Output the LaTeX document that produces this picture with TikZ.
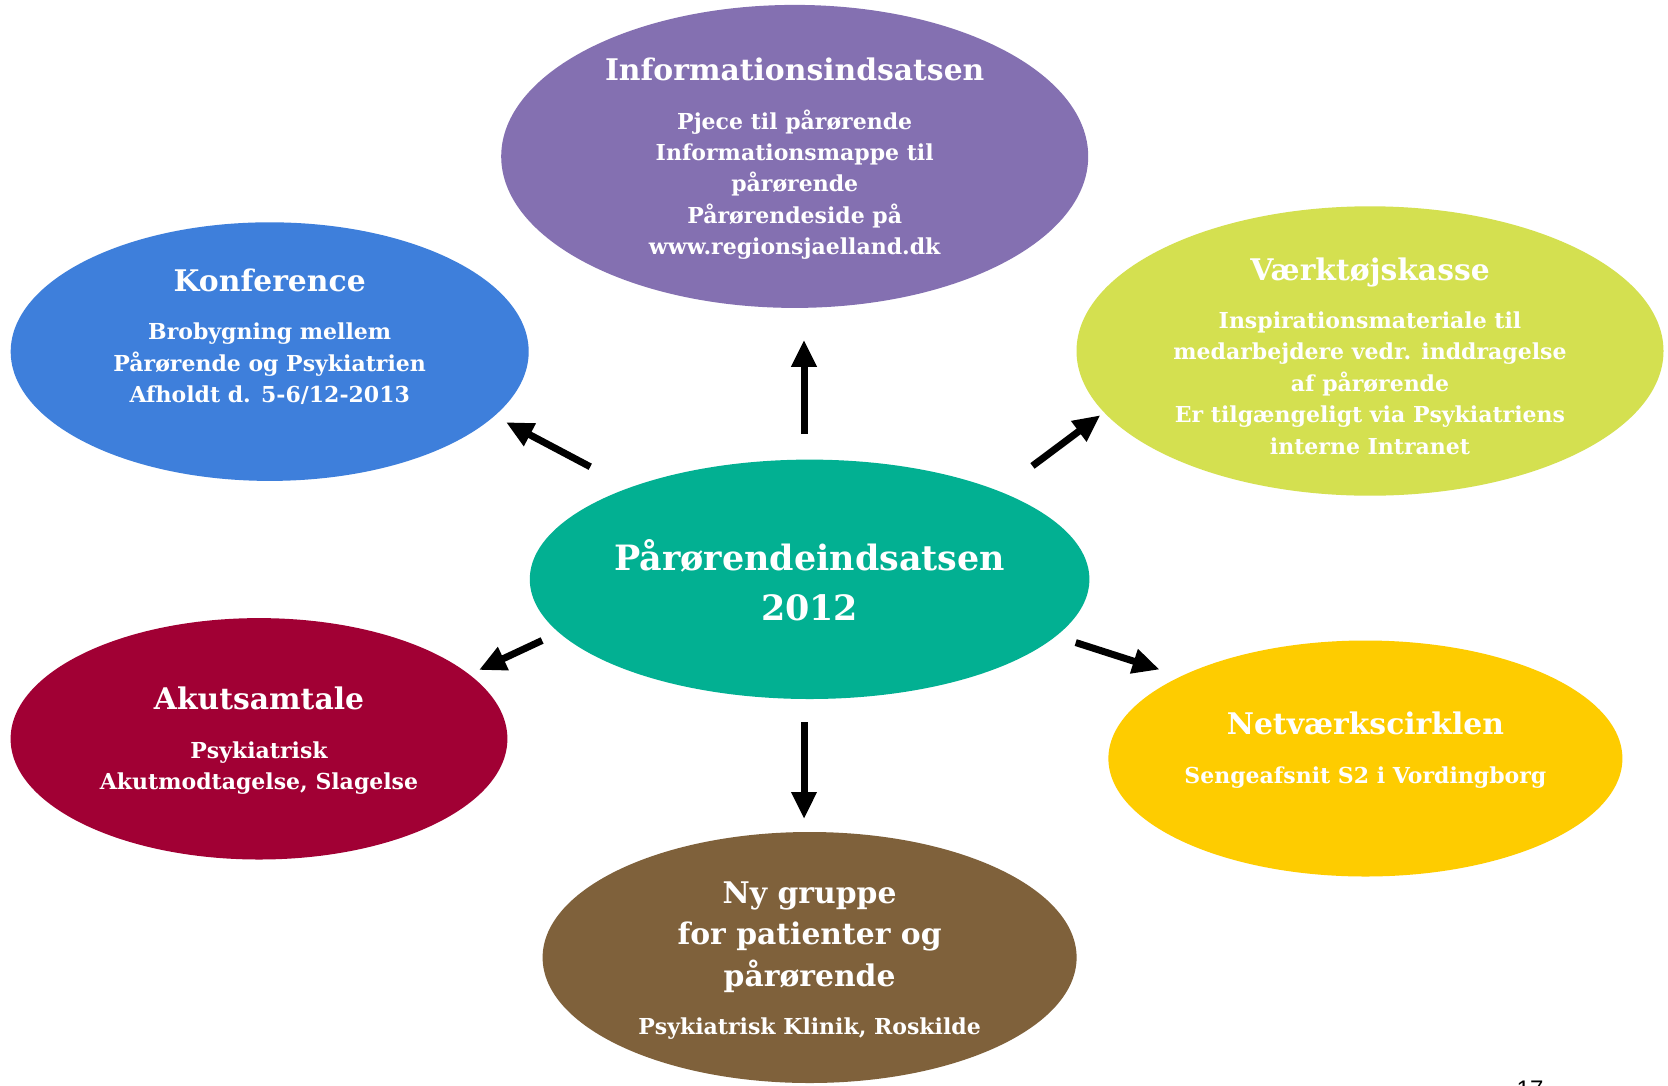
\documentclass[tikz,border=0pt]{standalone}
\usepackage{fontspec}
\setmainfont{DejaVu Serif}
\newfontfamily\pagenumfont{Liberation Sans}
\usetikzlibrary{shapes.geometric,arrows.meta}
\definecolor{cpurple}{RGB}{132,112,177}
\definecolor{cblue}{RGB}{62,127,219}
\definecolor{clime}{RGB}{212,224,80}
\definecolor{cteal}{RGB}{2,176,146}
\definecolor{ccrimson}{RGB}{161,0,52}
\definecolor{cgold}{RGB}{254,204,0}
\definecolor{cbrown}{RGB}{127,97,59}
\newcommand\titlef{\fontsize{29.8}{35}\selectfont}
\newcommand\bodyf{\fontsize{22}{31.4}\selectfont}
\begin{document}
\begin{tikzpicture}[x=1pt,y=-1pt,
  bubble/.style={ellipse, inner sep=0pt, outer sep=0pt, draw=none},
  txt/.style={text=white, align=center, inner sep=0pt, font=\bodyf\bfseries},
  arr/.style={line width=7pt, draw=black, -{Triangle[length=27pt,width=24pt]}},
]
\useasboundingbox (0,0) rectangle (1668,1085);
\clip (0,0) rectangle (1668,1085);
\fill[white] (0,0) rectangle (1668,1085);

% ellipses
\node[bubble, fill=cpurple, minimum width=587pt, minimum height=303pt] (info) at (794.7,156.4) {};
\node[bubble, fill=cblue, minimum width=518pt, minimum height=258.6pt] (konf) at (269.7,351.6) {};
\node[bubble, fill=clime, minimum width=587pt, minimum height=289.4pt] (vaerk) at (1370,351) {};
\node[bubble, fill=cteal, minimum width=559.6pt, minimum height=239.4pt] (cen) at (809.6,579.3) {};
\node[bubble, fill=ccrimson, minimum width=496.8pt, minimum height=241.4pt] (akut) at (259,738.8) {};
\node[bubble, fill=cgold, minimum width=514pt, minimum height=236pt] (netv) at (1365.4,758.5) {};
\node[bubble, fill=cbrown, minimum width=534pt, minimum height=251pt] (ny) at (809.6,957.5) {};

% texts
\node[txt] (infoT) at (794.7,158.8) {{\titlef Informationsindsatsen}\\[17pt]
  Pjece til pårørende\\ Informationsmappe til\\ pårørende\\ Pårørendeside på\\ www.regionsjaelland.dk};
\node[txt] (konfT) at (269.7,336.5) {{\titlef Konference}\\[17pt]
  Brobygning mellem\\ Pårørende og Psykiatrien\\ Afholdt d. 5-6/12-2013};
\node[txt] (vaerkT) at (1370,356) {{\titlef Værktøjskasse}\\[17pt]
  Inspirationsmateriale til\\ medarbejdere vedr. inddragelse\\ af pårørende\\
  Er tilgængeligt via Psykiatriens\\ interne Intranet};
\node[txt, font=\fontsize{34.9}{50}\selectfont\bfseries] (cenT) at (809.6,580.5) {Pårørendeindsatsen\\ 2012};
\node[txt] (akutT) at (259,741) {{\titlef Akutsamtale}\\[17pt]
  Psykiatrisk\\ Akutmodtagelse, Slagelse};
\node[txt] (netvT) at (1365.4,750) {{\titlef Netværkscirklen}\\[17pt]
  Sengeafsnit S2 i Vordingborg};
\node[txt, font=\fontsize{29.8}{41.5}\selectfont\bfseries] (nyT) at (809.6,960.5) {Ny gruppe\\ for patienter og\\ pårørende\\[6.5pt]
  {\bodyf Psykiatrisk Klinik, Roskilde}};

% page number (cut off at the bottom edge, as in the source page)
\node[anchor=base, inner sep=0pt, font=\pagenumfont\fontsize{24}{24}\selectfont] (pnum) at (1530,1097) {17};

% arrows
\draw[arr, shorten <=25.6pt, shorten >=32pt] ([xshift=-5.6pt]cen.north) -- ([xshift=9.3pt]info.south);
\draw[arr, shorten <=23pt, shorten >=13pt] ([xshift=-5.6pt]cen.south) -- ([xshift=-5.6pt]ny.north);
\draw[arr, shorten <=44.6pt, shorten >=13.3pt] (cen.153.1) -- (konf.344.7);
\draw[arr, shorten <=42.1pt, shorten >=4.8pt] (cen.25.8) -- (vaerk.193.5);
\draw[arr, shorten <=18.7pt, shorten >=10.7pt] (cen.192.4) -- (akut.17.1);
\draw[arr, shorten <=20.9pt, shorten >=22.4pt] (cen.347.5) -- (netv.156.6);
\end{tikzpicture}
\end{document}
